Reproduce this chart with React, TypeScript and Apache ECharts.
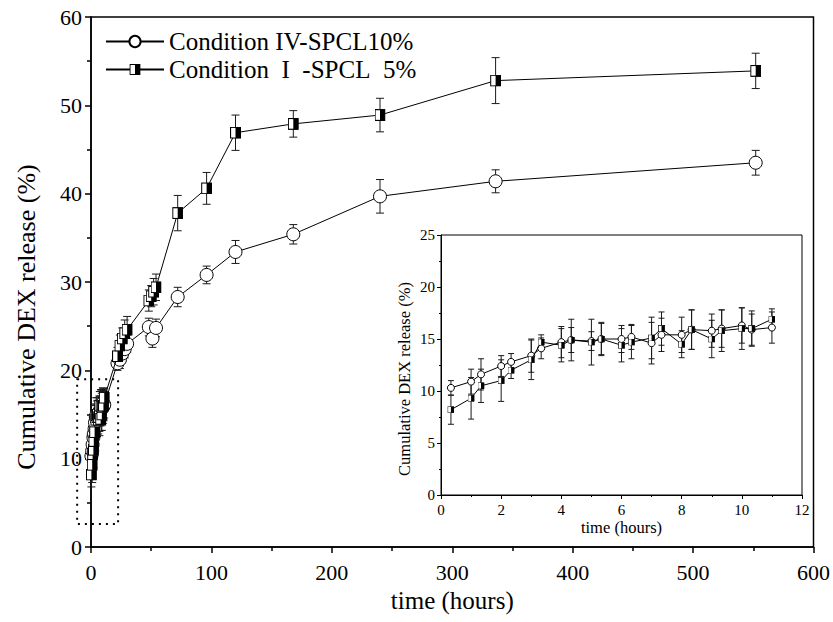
import React, { useEffect, useRef } from 'react';
import * as echarts from 'echarts';

// ---------- data ----------
const earlyTimes = [0.33, 1, 1.33, 2, 2.33, 3, 3.33, 4, 4.33, 5, 5.33, 6, 6.33, 7, 7.33, 8, 8.33, 9, 9.33, 10, 10.33, 11];

const condIVEarly = [10.3, 10.9, 11.6, 12.4, 12.8, 13.4, 14.1, 14.7, 14.9, 14.8, 15.0, 15.0, 15.2, 14.6, 15.4, 15.4, 15.9, 15.8, 16.0, 16.3, 15.9, 16.1];
const condIVEarlyErr = [0.7, 1.2, 1.5, 1.0, 0.8, 1.6, 1.0, 1.5, 1.2, 0.9, 1.5, 1.3, 1.2, 2.0, 1.6, 1.7, 1.9, 1.6, 1.8, 1.7, 1.5, 1.5];
const condIEarly = [8.2, 9.3, 10.5, 11.0, 12.0, 13.0, 14.7, 14.4, 14.9, 14.7, 15.0, 14.4, 14.7, 15.1, 16.0, 14.5, 15.9, 15.0, 15.8, 16.0, 16.0, 16.9];
const condIEarlyErr = [1.4, 2.0, 1.6, 2.0, 0.8, 1.9, 0.7, 1.6, 2.0, 2.2, 1.6, 1.6, 1.6, 2.0, 1.6, 1.3, 1.9, 1.8, 2.0, 2.0, 1.7, 1.0];

const condIVLateTimes = [22, 24, 26, 28, 30, 48, 51, 54, 72, 96, 120, 168, 240, 336, 552];
const condIVLate = [20.8, 21.2, 21.9, 22.4, 23.0, 24.9, 23.6, 24.8, 28.3, 30.8, 33.4, 35.4, 39.7, 41.4, 43.5];
const condIVLateErr = [0.8, 1.0, 0.9, 1.0, 1.0, 1.0, 1.0, 1.0, 1.1, 1.0, 1.3, 1.1, 1.9, 1.3, 1.4];

const condILateTimes = [22, 24, 26, 28, 30, 48, 50, 52, 54, 72, 96, 120, 168, 240, 336, 552];
const condILate = [21.6, 22.8, 23.6, 24.2, 24.6, 27.9, 28.4, 28.9, 29.4, 37.8, 40.6, 46.9, 47.9, 48.9, 52.8, 53.9];
const condILateErr = [1.0, 1.2, 1.2, 1.5, 1.5, 1.2, 1.2, 1.5, 1.5, 2.0, 1.8, 2.0, 1.5, 1.9, 2.6, 2.0];

const seriesNames = ['Condition IV-SPCL10%', 'Condition\u00a0 I\u00a0 -SPCL\u00a0 5%'];

// dotted zoom box (data units of main plot)
const boxX = [-11.5, 22.5];
const boxY = [2.6, 19.0];

// ---------- helpers ----------
const FONT = 'Liberation Serif';

const halfSquareSvg =
  '<svg xmlns="http://www.w3.org/2000/svg" width="20" height="20" viewBox="0 0 20 20" preserveAspectRatio="none">' +
  '<rect x="1" y="1" width="18" height="18" fill="white" stroke="black" stroke-width="2"/>' +
  '<rect x="10" y="1" width="9" height="18" fill="black"/></svg>';
const halfSquare = 'image://data:image/svg+xml;charset=utf-8,' + encodeURIComponent(halfSquareSvg);

const pts = (t: number[], v: number[]) => t.map((x, i) => [x, v[i]]);
const errs = (t: number[], v: number[], e: number[]) => t.map((x, i) => [x, v[i] - e[i], v[i] + e[i]]);

const errRender = (cap: number) => (_params: any, api: any) => {
  const x = api.value(0);
  const lo = api.coord([x, api.value(1)]);
  const hi = api.coord([x, api.value(2)]);
  const style = { stroke: '#1a1a1a', lineWidth: 1 };
  return {
    type: 'group',
    children: [
      { type: 'line', shape: { x1: lo[0], y1: lo[1], x2: hi[0], y2: hi[1] }, style },
      { type: 'line', shape: { x1: lo[0] - cap, y1: lo[1], x2: lo[0] + cap, y2: lo[1] }, style },
      { type: 'line', shape: { x1: hi[0] - cap, y1: hi[1], x2: hi[0] + cap, y2: hi[1] }, style },
    ],
  };
};

const txt = (fontSize: number) => ({ color: '#000', fontFamily: FONT, fontSize, fontWeight: 'normal' as const });

const axisCommon = (lw: number, tickLen: number) => ({
  type: 'value' as const,
  axisLine: { show: true, lineStyle: { color: '#000', width: lw } },
  axisTick: { show: true, inside: false, length: tickLen, lineStyle: { color: '#000', width: lw } },
  minorTick: { show: true, splitNumber: 2, length: Math.round(tickLen * 0.6), lineStyle: { color: '#000', width: lw } },
  splitLine: { show: false },
  minorSplitLine: { show: false },
});

const mainIV = pts([...earlyTimes, ...condIVLateTimes], [...condIVEarly, ...condIVLate]);
const mainI = pts([...earlyTimes, ...condILateTimes], [...condIEarly, ...condILate]);
const mainIVErr = errs([...earlyTimes, ...condIVLateTimes], [...condIVEarly, ...condIVLate], [...condIVEarlyErr, ...condIVLateErr]);
const mainIErr = errs([...earlyTimes, ...condILateTimes], [...condIEarly, ...condILate], [...condIEarlyErr, ...condILateErr]);

const circleStyle = { color: '#fff', borderColor: '#000', borderWidth: 1 };

const option: any = {
  animation: false,
  backgroundColor: '#fff',
  textStyle: { fontFamily: FONT },
  grid: [
    { left: 91, top: 17, width: 723, height: 530, show: true, borderColor: '#000', borderWidth: 1.5, backgroundColor: 'transparent' },
    { left: 441, top: 235, width: 361, height: 260, show: true, borderColor: '#000', borderWidth: 1, backgroundColor: '#fff' },
  ],
  xAxis: [
    {
      ...axisCommon(1.5, 6),
      gridIndex: 0, min: 0, max: 600, interval: 100,
      name: 'time (hours)', nameLocation: 'middle', nameGap: 40,
      nameTextStyle: txt(25),
      axisLabel: { ...txt(22), margin: 14 },
    },
    {
      ...axisCommon(1, 4),
      gridIndex: 1, min: 0, max: 12, interval: 2,
      name: 'time (hours)', nameLocation: 'middle', nameGap: 24,
      nameTextStyle: txt(16.5),
      axisLabel: { ...txt(15), margin: 7 },
    },
  ],
  yAxis: [
    {
      ...axisCommon(1.5, 6),
      gridIndex: 0, min: 0, max: 60, interval: 10,
      name: 'Cumulative DEX release (%)', nameLocation: 'middle', nameGap: 52, nameRotate: 90,
      nameTextStyle: { ...txt(26), padding: [0, 70, 0, 0] },
      axisLabel: { ...txt(22), margin: 9 },
    },
    {
      ...axisCommon(1, 4),
      gridIndex: 1, min: 0, max: 25, interval: 5,
      name: 'Cumulative DEX release (%)', nameLocation: 'middle', nameGap: 28, nameRotate: 90,
      nameTextStyle: { ...txt(16.5), padding: [0, 28, 0, 0] },
      axisLabel: { ...txt(15), margin: 6 },
    },
  ],
  legend: {
    data: seriesNames,
    orient: 'vertical',
    left: 105,
    top: 29,
    padding: 0,
    itemGap: 3,
    itemWidth: 58,
    itemHeight: 14,
    selectedMode: false,
    textStyle: txt(25),
  },
  series: [
    // main plot error bars
    { type: 'custom', xAxisIndex: 0, yAxisIndex: 0, z: 1, silent: true, renderItem: errRender(4), data: mainIVErr, encode: { x: 0, y: [1, 2] }, clip: false },
    { type: 'custom', xAxisIndex: 0, yAxisIndex: 0, z: 1, silent: true, renderItem: errRender(4), data: mainIErr, encode: { x: 0, y: [1, 2] }, clip: false },
    // main plot lines
    {
      name: seriesNames[0], type: 'line', xAxisIndex: 0, yAxisIndex: 0, z: 3, data: mainIV,
      symbol: 'circle', symbolSize: 13, showAllSymbol: true,
      lineStyle: { color: '#000', width: 1 }, itemStyle: circleStyle,
    },
    {
      name: seriesNames[1], type: 'line', xAxisIndex: 0, yAxisIndex: 0, z: 4, data: mainI,
      symbol: halfSquare, symbolSize: [11, 12], showAllSymbol: true,
      lineStyle: { color: '#000', width: 1 }, itemStyle: { color: '#000' },
    },
    // inset error bars
    { type: 'custom', xAxisIndex: 1, yAxisIndex: 1, z: 5, silent: true, renderItem: errRender(3), data: errs(earlyTimes, condIVEarly, condIVEarlyErr), encode: { x: 0, y: [1, 2] } },
    { type: 'custom', xAxisIndex: 1, yAxisIndex: 1, z: 5, silent: true, renderItem: errRender(3), data: errs(earlyTimes, condIEarly, condIEarlyErr), encode: { x: 0, y: [1, 2] } },
    // inset lines
    {
      name: seriesNames[0], type: 'line', xAxisIndex: 1, yAxisIndex: 1, z: 6, data: pts(earlyTimes, condIVEarly),
      symbol: 'circle', symbolSize: 7, showAllSymbol: true,
      lineStyle: { color: '#000', width: 1 }, itemStyle: circleStyle,
    },
    {
      name: seriesNames[1], type: 'line', xAxisIndex: 1, yAxisIndex: 1, z: 7, data: pts(earlyTimes, condIEarly),
      symbol: halfSquare, symbolSize: 7, showAllSymbol: true,
      lineStyle: { color: '#000', width: 1 }, itemStyle: { color: '#000' },
    },
  ],
};

export default function App() {
  const ref = useRef<HTMLDivElement>(null);
  useEffect(() => {
    const chart = echarts.init(ref.current!, null, { renderer: 'svg' });
    chart.setOption(option);
    const p1 = chart.convertToPixel({ gridIndex: 0 } as any, [boxX[0], boxY[1]]) as number[];
    const p2 = chart.convertToPixel({ gridIndex: 0 } as any, [boxX[1], boxY[0]]) as number[];
    chart.setOption({
      graphic: [
        {
          type: 'rect', z: 20, silent: true,
          shape: { x: p1[0], y: p1[1], width: p2[0] - p1[0], height: p2[1] - p1[1] },
          style: { fill: 'none', stroke: '#000', lineWidth: 2, lineDash: [2, 5] },
        },
      ],
    });
    return () => chart.dispose();
  }, []);
  return <div ref={ref} style={{ position: 'fixed', left: 0, top: 0, width: 833, height: 622 }} />;
}
